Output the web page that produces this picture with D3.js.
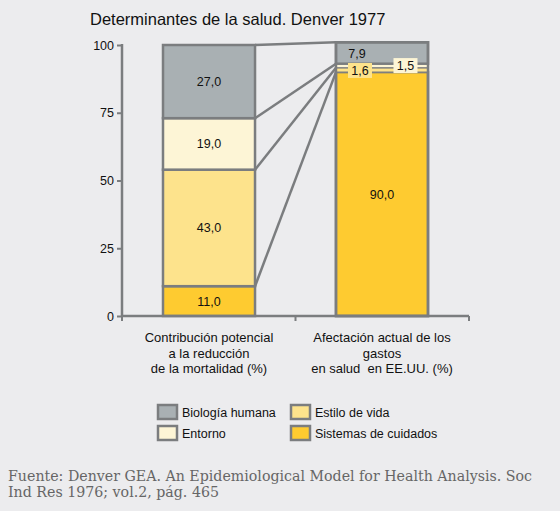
<!DOCTYPE html>
<html><head><meta charset="utf-8">
<script src="https://cdn.jsdelivr.net/npm/d3@7"></script>
<style>
html,body{margin:0;padding:0;background:#ececee;}
svg{display:block;}
</style></head>
<body>
<svg id="c" width="560" height="511"></svg>
<script>
const categories = ["Contribución potencial|a la reducción|de la mortalidad (%)", "Afectación actual de los|gastos|en salud  en EE.UU. (%)"];
const seriesNames = ["Sistemas de cuidados", "Estilo de vida", "Entorno", "Biología humana"];
const leftValues = [11.0, 43.0, 19.0, 27.0];
const rightValues = [90.0, 1.6, 1.5, 7.9];
const yTicks = [0, 25, 50, 75, 100];
const colors = ["#fecb30", "#fde38c", "#fdf5d6", "#a9b0b3"];
const title = "Determinantes de la salud. Denver 1977";
const source = ["Fuente: Denver GEA. An Epidemiological Model for Health Analysis. Soc", "Ind Res 1976; vol.2, pág. 465"];

const svg = d3.select("#c");
const stroke = "#7b7d7f";
const W = 560;
const x0 = 122, x1 = 469;
const x = d3.scaleBand().domain([0,1]).range([x0, x1]).paddingInner(0.468).paddingOuter(0.237);
const y = d3.scaleLinear().domain([0,100]).range([316, 45]);
const lblFont = "Liberation Sans, Arial, sans-serif";

svg.append("text").attr("x", 90).attr("y", 25).attr("font-family", lblFont)
  .attr("font-size", 16.5).attr("fill","#111").text(title);

function stack(vals){ let c=0; return vals.map((v,i)=>{const s={y0:c,y1:c+v,v,i}; c+=v; return s;}); }
const sL = stack(leftValues), sR = stack(rightValues);

// connecting lines
const conn = sL.map((d,i)=>[d.y1, sR[i].y1]);
const xl = x(0)+x.bandwidth(), xr = x(1);
svg.append("g").selectAll("line").data(conn).join("line")
  .attr("x1", xl).attr("y1", d=>y(d[0])).attr("x2", xr).attr("y2", d=>y(d[1]))
  .attr("stroke", stroke).attr("stroke-width", 2.5);

// left bar
svg.append("g").selectAll("rect").data(sL).join("rect")
  .attr("x", x(0)).attr("width", x.bandwidth())
  .attr("y", d=>y(d.y1)).attr("height", d=>y(d.y0)-y(d.y1))
  .attr("fill", d=>colors[d.i]).attr("stroke", stroke).attr("stroke-width", 2.5);

// right bar
const gR = svg.append("g");
gR.selectAll("rect").data(sR).join("rect")
  .attr("x", x(1)).attr("width", x.bandwidth())
  .attr("y", d=>y(d.y1)).attr("height", d=>y(d.y0)-y(d.y1))
  .attr("fill", d=>colors[d.i]).attr("stroke", stroke).attr("stroke-width", d=>d.v<5?1.2:2.5);
gR.append("rect").attr("x", x(1)).attr("width", x.bandwidth())
  .attr("y", y(sR[3].y1)).attr("height", y(0)-y(sR[3].y1))
  .attr("fill","none").attr("stroke", stroke).attr("stroke-width", 2.5);

const fmt = v => d3.format(".1f")(v).replace(".", ",");
// left labels
svg.append("g").selectAll("text").data(sL).join("text")
  .attr("x", x(0)+x.bandwidth()/2).attr("y", d=>y((d.y0+d.y1)/2)+4.5)
  .attr("text-anchor","middle").attr("font-family", lblFont).attr("font-size", 12.5).attr("fill","#111")
  .text(d=>fmt(d.v));
// right labels
const rc = x(1)+x.bandwidth()/2;
const rl = svg.append("g").attr("font-family", lblFont).attr("font-size", 12.5).attr("fill","#111");
rl.append("text").attr("x", rc).attr("y", y(45)+4.5).attr("text-anchor","middle").text(fmt(sR[0].v));
rl.append("text").attr("x", rc-25).attr("y", y(96.7)+4.5).attr("text-anchor","middle").text(fmt(sR[3].v));
const small = [{s:sR[1], dx:-22, yy:90.6}, {s:sR[2], dx:23.5, yy:92.4}];
small.forEach(o=>{
  const cx = rc+o.dx, cy = y(o.yy);
  rl.append("rect").attr("x", cx-12).attr("y", cy-7.5).attr("width", 24).attr("height", 15).attr("fill", colors[o.s.i]);
  rl.append("text").attr("x", cx).attr("y", cy+4.5).attr("text-anchor","middle").text(fmt(o.s.v));
});

// y axis
const yAxis = d3.axisLeft(y).tickValues(yTicks).tickSize(5).tickPadding(3);
const ga = svg.append("g").attr("transform", `translate(${x0},0)`).call(yAxis);
ga.select(".domain").attr("stroke", stroke).attr("stroke-width", 2.5).attr("d", `M0,${y(100)-1}V${y(0)}`);
ga.selectAll(".tick line").attr("stroke", stroke).attr("stroke-width", 2);
ga.selectAll(".tick text").attr("font-family", lblFont).attr("font-size", 12.5).attr("fill","#111");

// x axis
const gx = svg.append("g").attr("transform", `translate(0,${y(0)})`);
gx.append("line").attr("x1", x0).attr("x2", x1).attr("stroke", stroke).attr("stroke-width", 2.5);
const bounds = [x0, (x0 + x1)/2, x1];
gx.selectAll("line.t").data(bounds).join("line").attr("class","t")
  .attr("x1", d=>d).attr("x2", d=>d).attr("y1", 0).attr("y2", 5).attr("stroke", stroke).attr("stroke-width", 2);

// category labels
const cl = svg.append("g").attr("font-family", lblFont).attr("font-size", 13).attr("fill","#111").attr("text-anchor","middle");
categories.forEach((c,i)=>{
  c.split("|").forEach((line,j)=>{
    cl.append("text").attr("x", x(i)+x.bandwidth()/2).attr("y", 342+j*15.5).style("white-space","pre").text(line);
  });
});

// legend
const legendOrder = [{n:3, col:0,row:0},{n:1,col:1,row:0},{n:2,col:0,row:1},{n:0,col:1,row:1}];
const lg = svg.append("g");
legendOrder.forEach(o=>{
  const lx = 158 + o.col*133, ly = 405 + o.row*21;
  lg.append("rect").attr("x", lx).attr("y", ly).attr("width", 19).attr("height", 14)
    .attr("fill", colors[o.n]).attr("stroke", stroke).attr("stroke-width", 2.5);
  lg.append("text").attr("x", lx+24).attr("y", ly+12).attr("font-family", lblFont).attr("font-size", 12.5)
    .attr("fill","#111").text(seriesNames[o.n]);
});

// source
const src = svg.append("g").attr("font-family","DejaVu Serif, Liberation Serif, serif").attr("font-size", 14.2).attr("fill","#666");
source.forEach((s,i)=> src.append("text").attr("x", 8).attr("y", 481+i*16).text(s));
</script>
</body></html>
